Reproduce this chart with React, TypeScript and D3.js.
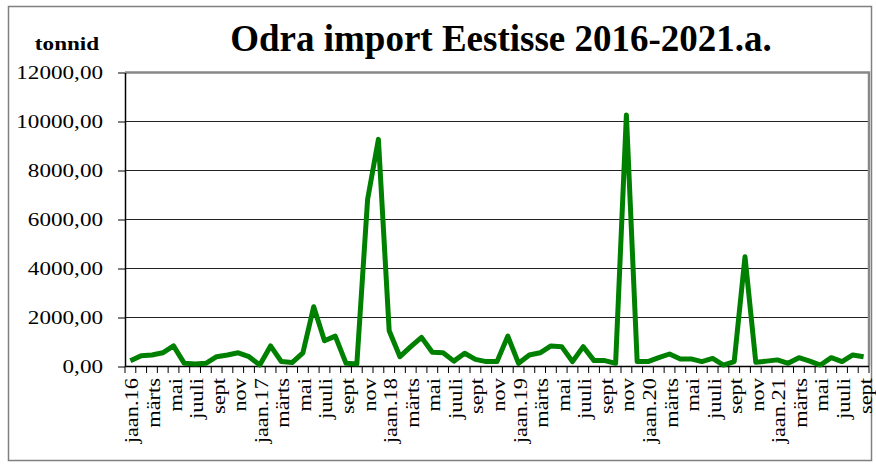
import React from 'react';
import * as d3 from 'd3';

// monthly barley imports to Estonia, tonnes (jan 2016 - sept 2021)
const months = [
    "jaan.16", "veebr", "märts", "apr", "mai", "juuni", "juuli", "aug", "sept", "okt", "nov", "dets",
    "jaan.17", "veebr", "märts", "apr", "mai", "juuni", "juuli", "aug", "sept", "okt", "nov", "dets",
    "jaan.18", "veebr", "märts", "apr", "mai", "juuni", "juuli", "aug", "sept", "okt", "nov", "dets",
    "jaan.19", "veebr", "märts", "apr", "mai", "juuni", "juuli", "aug", "sept", "okt", "nov", "dets",
    "jaan.20", "veebr", "märts", "apr", "mai", "juuni", "juuli", "aug", "sept", "okt", "nov", "dets",
    "jaan.21", "veebr", "märts", "apr", "mai", "juuni", "juuli", "aug", "sept"
];

const imports = [
    230, 440, 470, 560, 840, 130, 100, 130, 400, 470, 560, 400,
    60, 840, 200, 160, 560, 2440, 1050, 1240, 130, 100, 6820, 9270,
    1460, 400, 810, 1190, 580, 560, 220, 540, 290, 200, 200, 1240,
    130, 470, 560, 840, 810, 200, 810, 240, 240, 130, 10270, 200,
    200, 360, 510, 310, 310, 200, 330, 60, 200, 4480, 170, 220,
    270, 130, 360, 220, 60, 360, 200, 470, 400
];

const yTicks = [0, 2000, 4000, 6000, 8000, 10000, 12000];

const title = "Odra import Eestisse 2016-2021.a.";
const unitLabel = "tonnid";

const serif = '"Liberation Serif", "Times New Roman", serif';

class LineChart extends React.Component {
    node: SVGSVGElement | null = null;

    componentDidMount() {
        this.draw();
    }

    componentDidUpdate() {
        this.draw();
    }

    draw() {
        const width = 876,
            height = 465;

        // plot area
        const xStart = 125,
            xEnd = 869,
            yStart = 366.5,
            yEnd = 72.5;

        const svg = d3.select(this.node);
        svg.selectAll('*').remove();
        svg.attr('width', width).attr('height', height);

        // outer frame
        svg.append('rect')
            .attr('x', 8.5)
            .attr('y', 6.5)
            .attr('width', 863)
            .attr('height', 454)
            .style('fill', '#fff')
            .style('stroke', '#808080')
            .style('stroke-width', 1.5);

        const x = d3.scaleBand<number>()
            .domain(d3.range(months.length))
            .range([xStart, xEnd])
            .padding(0);
        const bw = x.bandwidth();

        const y = d3.scaleLinear()
            .domain([0, 12000])
            .range([yStart, yEnd]);

        // gridlines
        svg.append('g')
            .selectAll('line')
            .data(yTicks.filter(t => t > 0 && t < 12000))
            .enter()
            .append('line')
            .attr('x1', xStart)
            .attr('x2', xEnd)
            .attr('y1', d => y(d))
            .attr('y2', d => y(d))
            .style('stroke', '#222')
            .style('stroke-width', 1);

        // plot border top / right
        svg.append('path')
            .attr('d', `M${xStart},${yEnd}H${xEnd}V${yStart}`)
            .style('fill', 'none')
            .style('stroke', '#888')
            .style('stroke-width', 2.5);

        // y axis
        const fmt = d3.formatLocale({ decimal: ',', thousands: '', grouping: [3], currency: ['', ''] }).format('.2f');
        const yAxis = svg.append('g')
            .attr('transform', `translate(${xStart},0)`)
            .call(d3.axisLeft(y).tickValues(yTicks).tickSize(7).tickSizeOuter(0).tickFormat(d => fmt(d as number)));
        yAxis.select('.domain').style('stroke', '#000').style('stroke-width', 1.5);
        yAxis.selectAll('.tick line').style('stroke', '#000').style('stroke-width', 1);
        yAxis.selectAll('.tick text')
            .attr('x', -22 / 1.25)
            .attr('dy', '0.34em')
            .attr('transform', 'scale(1.25,1)')
            .style('font-family', serif)
            .style('font-size', '18.5px')
            .style('fill', '#000');

        // x axis line and ticks at category boundaries
        svg.append('line')
            .attr('x1', xStart)
            .attr('x2', xEnd)
            .attr('y1', yStart)
            .attr('y2', yStart)
            .style('stroke', '#000')
            .style('stroke-width', 1.5);

        const edges = d3.range(months.length).map(i => x(i) as number).concat([xEnd]);
        svg.append('g')
            .selectAll('line')
            .data(edges)
            .enter()
            .append('line')
            .attr('x1', d => d)
            .attr('x2', d => d)
            .attr('y1', yStart)
            .attr('y2', yStart + 6.5)
            .style('stroke', '#000')
            .style('stroke-width', 1);

        // x labels, every second month
        svg.append('g')
            .selectAll('g')
            .data(months.map((m, i) => ({ m, i })).filter(d => d.i % 2 === 0))
            .enter()
            .append('g')
            .attr('transform', d => `translate(${(x(d.i) as number) + bw / 2},378) rotate(-90)`)
            .append('text')
            .attr('transform', 'scale(1.18,1)')
            .attr('text-anchor', 'end')
            .attr('dy', '0.42em')
            .style('font-family', serif)
            .style('font-size', '19px')
            .style('fill', '#000')
            .text(d => d.m);

        // data line
        const line = d3.line<number>()
            .x((d, i) => (x(i) as number) + bw / 2)
            .y(d => y(d));

        svg.append('path')
            .datum(imports)
            .attr('d', line)
            .style('fill', 'none')
            .style('stroke', '#008000')
            .style('stroke-width', 5)
            .style('stroke-linejoin', 'round');

        // title and unit label
        svg.append('text')
            .attr('x', 501)
            .attr('y', 50.5)
            .attr('text-anchor', 'middle')
            .style('font-family', serif)
            .style('font-weight', 'bold')
            .style('font-size', '37px')
            .style('fill', '#000')
            .text(title);

        svg.append('g')
            .attr('transform', 'translate(67,50)')
            .append('text')
            .attr('transform', 'scale(1.25,1)')
            .attr('text-anchor', 'middle')
            .style('font-family', serif)
            .style('font-weight', 'bold')
            .style('font-size', '18.5px')
            .style('fill', '#000')
            .text(unitLabel);
    }

    render() {
        return (<svg ref={node => { this.node = node; }} style={{ position: 'absolute', left: 0, top: 0 }}></svg>);
    }
}

export default function App() {
    return <LineChart />;
}
